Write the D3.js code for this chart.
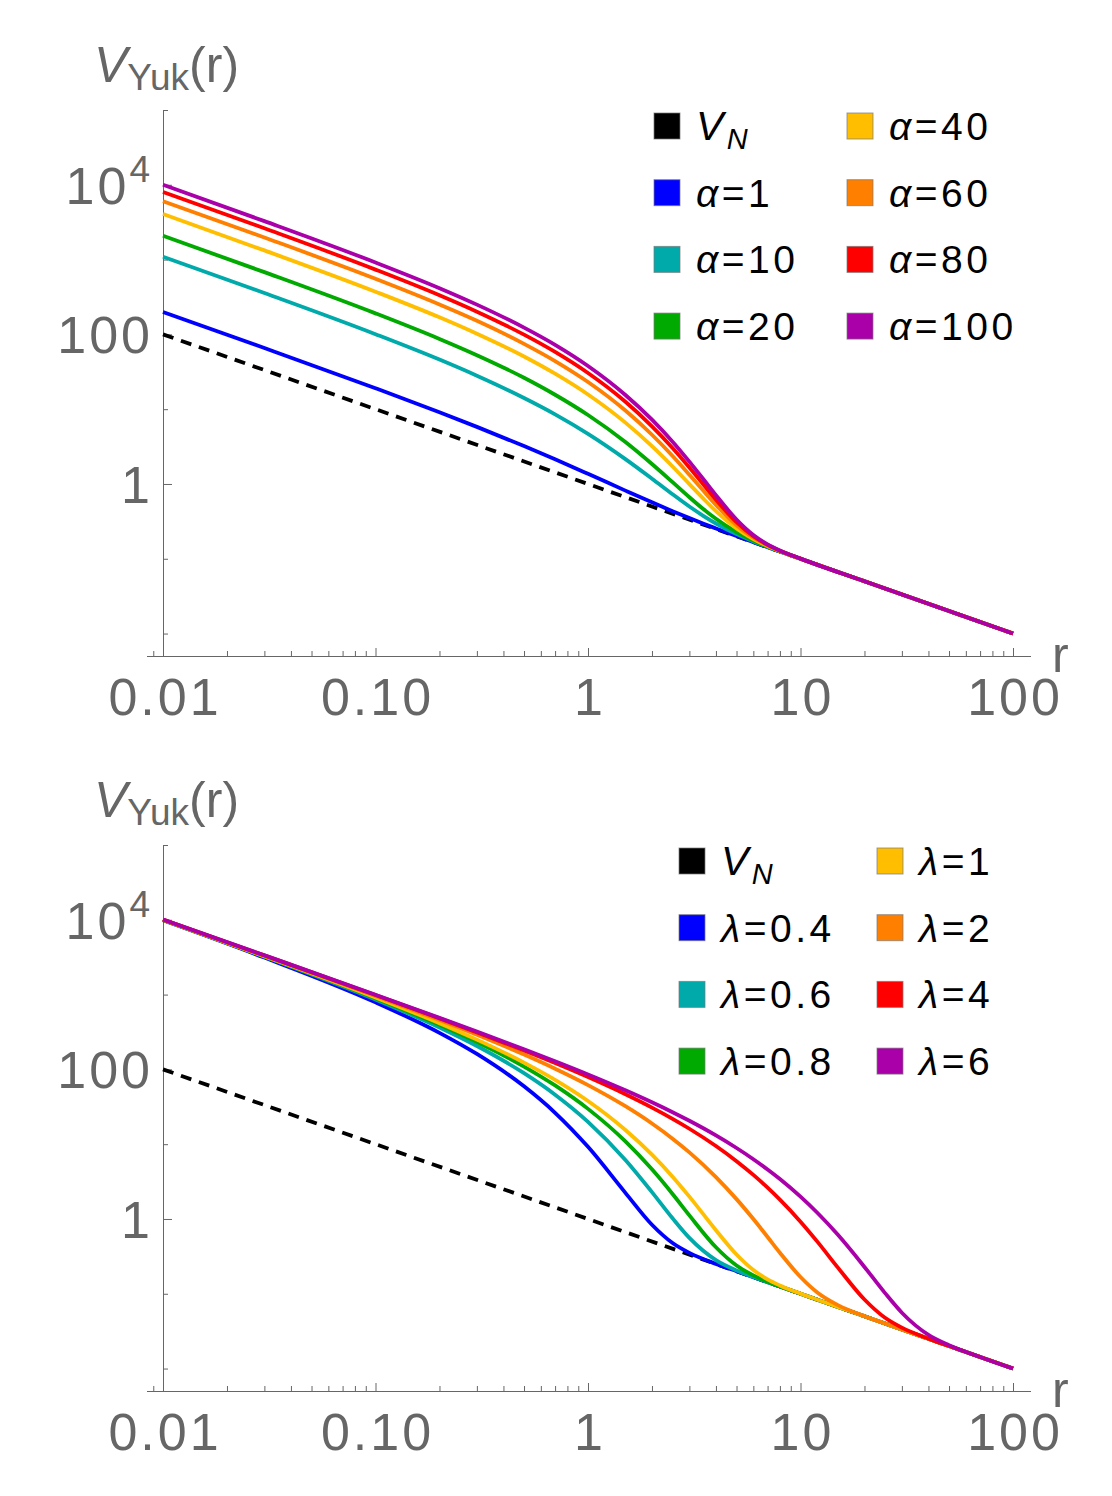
<!DOCTYPE html>
<html lang="en">
<head>
<meta charset="utf-8">
<title>Yukawa potential</title>
<script src="https://cdn.jsdelivr.net/npm/d3@7"></script>
<style>
  body { margin: 0; background: #fff; }
  svg { display: block; }
</style>
</head>
<body>
<script>
// sample radii for each panel
var rTop = [0.01, 0.03, 0.1, 0.2, 0.3, 0.5, 0.7, 1, 1.5, 2, 2.5, 3, 3.5, 4, 5, 6, 7, 8, 10, 20, 100];
var rBottom = [0.01, 0.03, 0.1, 0.2, 0.3, 0.5, 0.7, 1, 1.5, 2, 2.5, 3, 4, 5, 6, 7, 8, 10, 12, 15, 20, 25, 30, 40, 50, 70, 100];

// Newtonian reference (dashed)
var rNewton = [0.01, 100];
var vNewton = [100, 0.01];

// top panel: varying alpha
var alphaLabels = ["1", "10", "20", "40", "60", "80", "100"];
var alpha1   = [199, 65.7, 19.05, 9.10, 5.80, 3.21, 2.14, 1.368, 0.815, 0.568, 0.433, 0.350, 0.294, 0.2546, 0.2013, 0.1671, 0.1430, 0.1250, 0.1, 0.05, 0.01];
var alpha10  = [1090, 357, 100.5, 46.0, 28.0, 14.1, 8.53, 4.68, 2.15, 1.177, 0.728, 0.499, 0.372, 0.296, 0.2135, 0.1708, 0.1442, 0.1254, 0.1, 0.05, 0.01];
var alpha20  = [2080, 680, 191, 86.9, 52.7, 26.3, 15.6, 8.36, 3.64, 1.85, 1.057, 0.665, 0.458, 0.342, 0.227, 0.1749, 0.1455, 0.1258, 0.1001, 0.05, 0.01];
var alpha40  = [4060, 1327, 372, 169, 102, 50.6, 29.8, 15.72, 6.61, 3.20, 1.714, 0.997, 0.631, 0.433, 0.254, 0.1832, 0.1481, 0.1267, 0.1002, 0.05, 0.01];
var alpha60  = [6040, 1973, 553, 251, 152, 74.8, 44.0, 23.08, 9.59, 4.55, 2.37, 1.329, 0.803, 0.525, 0.281, 0.1915, 0.1507, 0.1275, 0.1003, 0.05, 0.01];
var alpha80  = [8020, 2620, 734, 333, 201, 99.1, 58.2, 30.44, 12.56, 5.90, 3.03, 1.661, 0.976, 0.616, 0.308, 0.1997, 0.1533, 0.1284, 0.1004, 0.05, 0.01];
var alpha100 = [10000, 3267, 915, 415, 250, 123, 72.4, 37.8, 15.5, 7.25, 3.68, 1.99, 1.149, 0.708, 0.335, 0.208, 0.1559, 0.1292, 0.1005, 0.05, 0.01];

// bottom panel: varying lambda
var lambdaLabels = ["0.4", "0.6", "0.8", "1", "2", "4", "6"];
var lambda04 = [9853, 3126, 788.8, 308.3, 160.8, 59.3, 26.3, 9.21, 2.235, 0.837, 0.477, 0.352, 0.2511, 0.2, 0.1667, 0.1429, 0.125, 0.1, 0.0833, 0.0667, 0.05, 0.04, 0.0333, 0.025, 0.02, 0.01429, 0.01];
var lambda06 = [9935, 3204, 856.5, 363.3, 205.5, 88.9, 45.9, 19.89, 6.14, 2.284, 1.02, 0.558, 0.2818, 0.2048, 0.1674, 0.143, 0.125, 0.1, 0.0833, 0.0667, 0.05, 0.04, 0.0333, 0.025, 0.02, 0.01429, 0.01];
var lambda08 = [9976, 3244, 892.5, 394.4, 232.4, 109.1, 61.0, 29.65, 10.89, 4.605, 2.158, 1.117, 0.4185, 0.2386, 0.1759, 0.1451, 0.1256, 0.1, 0.0833, 0.0667, 0.05, 0.04, 0.0333, 0.025, 0.02, 0.01429, 0.01];
var lambda1  = [10000, 3267, 915, 415, 250, 123, 72.4, 37.8, 15.5, 7.25, 3.68, 1.99, 0.708, 0.335, 0.208, 0.1559, 0.1292, 0.1005, 0.0833, 0.0667, 0.05, 0.04, 0.0333, 0.025, 0.02, 0.01429, 0.01];
var lambda2  = [10050, 3317, 961.2, 457.4, 290.2, 157.8, 102.1, 61.65, 32.16, 18.9, 11.86, 7.77, 3.63, 1.842, 0.997, 0.574, 0.354, 0.1674, 0.104, 0.0704, 0.0502, 0.04, 0.0333, 0.025, 0.02, 0.01429, 0.01];
var lambda4  = [10075, 3342, 985.3, 480.6, 312.6, 178.5, 121.4, 78.88, 46.49, 30.83, 21.81, 16.08, 9.45, 5.93, 3.885, 2.626, 1.816, 0.921, 0.498, 0.2235, 0.0837, 0.0477, 0.0352, 0.0251, 0.02, 0.01429, 0.01];
var lambda6  = [10083, 3350, 993.5, 488.6, 320.4, 186.0, 128.6, 85.65, 52.59, 36.33, 26.77, 20.55, 13.09, 8.89, 6.30, 4.59, 3.42, 1.989, 1.211, 0.614, 0.2284, 0.102, 0.0558, 0.0282, 0.0205, 0.01429, 0.01];

// axis ticks
var xMajor = [0.01, 0.1, 1, 10, 100];
var xMajorLabels = ["0.01", "0.10", "1", "10", "100"];
var yTicks = [0.01, 0.1, 1, 10, 100, 1000, 10000, 100000];
var yLabelled = [1, 100, 10000];

var colors = ["#0000ff", "#00aaaa", "#00aa00", "#ffbf00", "#ff7f00", "#ff0000", "#aa00aa"];
var grey = "#666666";
var font = "'Liberation Sans', Arial, sans-serif";

var svg = d3.select("body").append("svg")
    .attr("width", 1112)
    .attr("height", 1496)
    .style("font-family", font);

function drawPanel(oy, rGrid, seriesList, greek, labels, legendX) {
    var g = svg.append("g");

    var x = d3.scaleLog()
        .domain([Math.pow(10, -2.08), Math.pow(10, 2.08)])
        .range([146, 1030]);
    var y = d3.scaleLog()
        .domain([Math.pow(10, -2.3), 1e5])
        .range([656 + oy, 110 + oy]);

    // minor x ticks 2..9 per decade
    var xMinor = [];
    for (var e = -3; e <= 2; e++) {
        for (var k = 2; k <= 9; k++) {
            var v = k * Math.pow(10, e);
            if (v >= x.domain()[0] && v <= x.domain()[1]) xMinor.push(v);
        }
    }

    var xAxisMinor = g.append("g")
        .attr("transform", "translate(0," + (656 + oy) + ")")
        .call(d3.axisBottom(x).tickValues(xMinor).tickSize(-5).tickSizeOuter(0).tickFormat(""));
    var xAxis = g.append("g")
        .attr("transform", "translate(0," + (656 + oy) + ")")
        .call(d3.axisBottom(x).tickValues(xMajor).tickSize(-8).tickSizeOuter(0)
            .tickFormat(function(d, i) { return xMajorLabels[i]; }));
    xAxis.selectAll("text")
        .attr("y", 59).attr("dy", null)
        .attr("x", 1.5)
        .attr("fill", grey)
        .style("font-size", "52px")
        .style("letter-spacing", "3px")
        .style("font-family", font);

    var yAxis = g.append("g")
        .attr("transform", "translate(163,0)")
        .call(d3.axisLeft(y).tickValues(yTicks).tickSizeOuter(0).tickFormat(""));
    yAxis.selectAll(".tick line")
        .attr("x2", function(d) { return yLabelled.indexOf(d) >= 0 ? 9 : 5; });

    [xAxisMinor, xAxis, yAxis].forEach(function(a) {
        a.selectAll("path, line").attr("stroke", grey).attr("stroke-width", 1);
        a.select(".domain").attr("shape-rendering", "crispEdges");
    });

    // y tick labels (10^4 with superscript)
    yLabelled.forEach(function(d) {
        var t = g.append("text")
            .attr("x", 153)
            .attr("y", y(d) + 19)
            .attr("text-anchor", "end")
            .attr("fill", grey)
            .style("font-size", "52px")
            .style("letter-spacing", "3px");
        if (d === 10000) {
            t.append("tspan").text("10");
            t.append("tspan").attr("dy", -22).style("font-size", "37px").text("4");
        } else {
            t.text(d3.format("d")(d));
        }
    });

    // axis titles
    var title = g.append("text")
        .attr("x", 94)
        .attr("y", 82 + oy)
        .attr("fill", grey)
        .style("font-size", "50px");
    title.append("tspan").style("font-style", "italic").text("V");
    title.append("tspan").attr("dy", 8).style("font-size", "37px").text("Yuk");
    title.append("tspan").attr("dy", -8).text("(r)");

    g.append("text")
        .attr("x", 1052)
        .attr("y", 672 + oy)
        .attr("fill", grey)
        .style("font-size", "50px")
        .text("r");

    // curves
    var line = d3.line()
        .x(function(d) { return x(d[0]); })
        .y(function(d) { return y(d[1]); })
        .curve(d3.curveMonotoneX);

    g.append("path")
        .attr("d", line(d3.zip(rNewton, vNewton)))
        .attr("fill", "none")
        .attr("stroke", "#000")
        .attr("stroke-width", 3.8)
        .attr("stroke-dasharray", "11,8");

    seriesList.forEach(function(vals, i) {
        g.append("path")
            .attr("d", line(d3.zip(rGrid, vals)))
            .attr("fill", "none")
            .attr("stroke", colors[i])
            .attr("stroke-width", 3.8)
            .attr("stroke-linejoin", "round");
    });

    // legend
    var items = [{ c: "#000", name: null }];
    labels.forEach(function(l, i) { items.push({ c: colors[i], name: l }); });

    items.forEach(function(it, i) {
        var col = Math.floor(i / 4), row = i % 4;
        var sx = legendX[col];
        var sy = 113 + oy + row * 66.7;
        g.append("rect")
            .attr("x", sx).attr("y", sy)
            .attr("width", 26).attr("height", 26)
            .attr("fill", it.c)
            .attr("stroke", "rgba(120,120,120,0.7)")
            .attr("stroke-width", 1);
        var t = g.append("text")
            .attr("x", sx + 42)
            .attr("y", sy + 27)
            .attr("fill", "#000")
            .style("font-size", "39px")
            .style("letter-spacing", "3.5px");
        if (it.name === null) {
            t.append("tspan").style("font-style", "italic").style("font-size", "41px").text("V");
            t.append("tspan").attr("dy", 9).style("font-style", "italic").style("font-size", "29px").text("N");
        } else {
            t.append("tspan").style("font-style", "italic").text(greek);
            t.append("tspan").text("=" + it.name);
        }
    });
}

drawPanel(0, rTop, [alpha1, alpha10, alpha20, alpha40, alpha60, alpha80, alpha100],
    "\u03b1", alphaLabels, [654, 847]);
drawPanel(735, rBottom, [lambda04, lambda06, lambda08, lambda1, lambda2, lambda4, lambda6],
    "\u03bb", lambdaLabels, [679, 877]);
</script>
</body>
</html>
